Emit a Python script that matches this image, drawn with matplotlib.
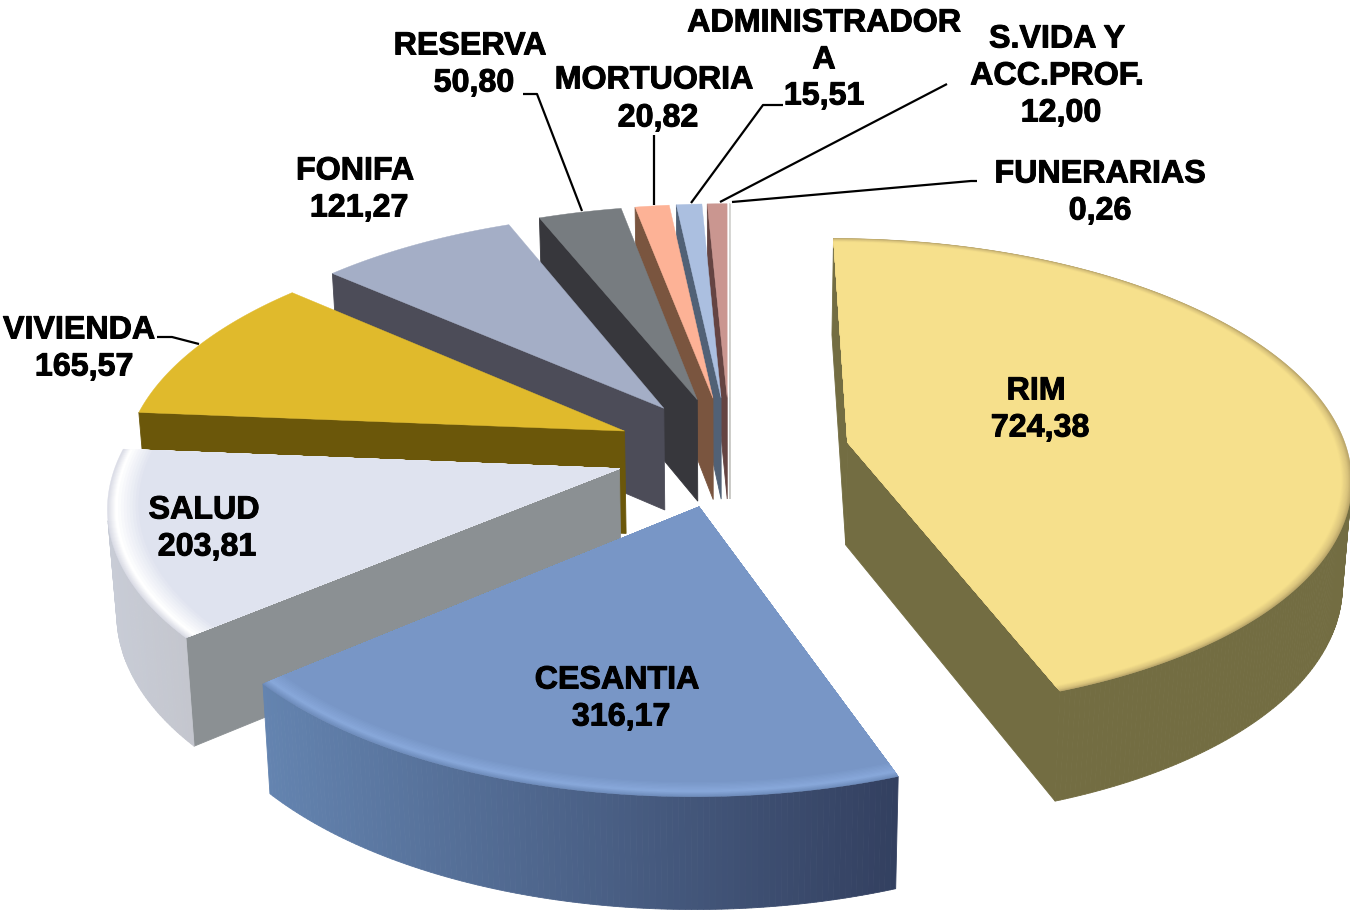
import numpy as np
import matplotlib
matplotlib.use("Agg")
import matplotlib.pyplot as plt
import matplotlib.patheffects as pe
from matplotlib.colors import to_rgb
from matplotlib.patches import Polygon

names = ["RIM", "CESANTIA", "SALUD", "VIVIENDA", "FONIFA", "RESERVA", "MORTUORIA", "ADMINISTRADORA", "S.VIDA Y ACC.PROF.", "FUNERARIAS"]
values = [724.38, 316.17, 203.81, 165.57, 121.27, 50.80, 20.82, 15.51, 12.00, 0.26]
value_text = ["724,38", "316,17", "203,81", "165,57", "121,27", "50,80", "20,82", "15,51", "12,00", "0,26"]

explode = [0.24, 0.235, 0.23, 0.232, 0.235, 0.24, 0.24, 0.24, 0.24, 0.24]
top_colors = ["#F6E08C", "#7896C6", "#DFE3EF", "#E0BA2C", "#A4AEC6", "#777C80", "#FDB296", "#ABBFE0", "#CA9690", "#D8D8D4"]
face_colors = ["#736D42", "#5F7DA8", "#8B9093", "#6B570A", "#4C4C58", "#37373C", "#7A553F", "#516176", "#654442", "#C8C8C4"]
wall_left = ["#736D42", "#6484B0", "#C8CCD6", "#6B570A", "#4C4C58", "#37373C", "#7A553F", "#516176", "#654442", "#C8C8C4"]
wall_right = ["#736D42", "#334060", "#C4C6CE", "#6B570A", "#4C4C58", "#37373C", "#7A553F", "#516176", "#654442", "#C8C8C4"]
# rim bevel stops: (radius fraction, colour), outer edge first
bevels = {
    0: [(1.0, "#B8A468"), (0.992, "#DCC67E"), (0.98, "#F6E08C")],
    1: [(1.0, "#6F8DBC"), (0.985, "#88A8DA"), (0.955, "#7896C6")],
    2: [(1.0, "#DADCE6"), (0.985, "#FFFFFF"), (0.94, "#DFE3EF")],
}

CX, CY, RX, RY, P, DEPTH, SHRINK = 730, 452, 500, 234, 0.136, 103, 0.985


def project(U, V, bottom=False):
    w = 1.0 / (1.0 - P * V)
    x = CX + RX * U * w
    y = CY + RY * V * w
    if bottom:
        x = CX + (x - CX) * SHRINK
        y = y + DEPTH * np.sqrt(w)
    return np.column_stack([x, y])


def mix(a, b, t):
    a, b = np.array(to_rgb(a)), np.array(to_rgb(b))
    return tuple(a + (b - a) * t)


fig = plt.figure(figsize=(13.5, 9.13), dpi=100)
ax = fig.add_axes([0, 0, 1, 1])
ax.set_xlim(0, 1350)
ax.set_ylim(913, 0)
ax.axis("off")

angles = np.cumsum([0.0] + list(values)) / np.sum(values) * 2 * np.pi


def slice_geom(i, r=1.0):
    a0, a1 = angles[i], angles[i + 1]
    mid = (a0 + a1) / 2
    ax0, ay0 = explode[i] * np.sin(mid), -explode[i] * np.cos(mid)
    th = np.linspace(a0, a1, max(3, int((a1 - a0) / 0.01)))
    return (ax0, ay0), ax0 + r * np.sin(th), ay0 - r * np.cos(th), th


def area(q):
    x, y = q[:, 0], q[:, 1]
    return np.sum(x * np.roll(y, -1) - np.roll(x, -1) * y)


def quad(t0, t1, b1, b0, color, z):
    q = np.vstack([t0, t1, b1, b0])
    if area(q) < 0:
        ax.add_patch(Polygon(q, closed=True, fc=color, ec=color, lw=0.6, zorder=z))


order = [9, 8, 7, 6, 5, 4, 3, 2, 0, 1]
for n, i in enumerate(order):
    z = 2 + n
    (a_x, a_y), us, vs, th = slice_geom(i)
    top = project(us, vs)
    bot = project(us, vs, bottom=True)
    ap_t = project(np.array([a_x]), np.array([a_y]))
    ap_b = project(np.array([a_x]), np.array([a_y]), bottom=True)
    quad(ap_t, top[:1], bot[:1], ap_b, face_colors[i], z)
    quad(top[-1:], ap_t, ap_b, bot[-1:], face_colors[i], z)
    xmin, xmax = top[:, 0].min(), top[:, 0].max()
    for k in range(len(th) - 1):
        t = (top[k, 0] - xmin) / max(xmax - xmin, 1)
        quad(top[k:k + 1], top[k + 1:k + 2], bot[k + 1:k + 2], bot[k:k + 1],
             mix(wall_left[i], wall_right[i], t), z)
    # top surface: nested wedges give a smooth bevel along the rim
    stops = bevels.get(i, [(1.0, top_colors[i])])
    layers = []
    for (r0, c0), (r1, c1) in zip(stops[:-1], stops[1:]):
        for t in np.linspace(0, 1, 8, endpoint=False):
            layers.append((r0 + (r1 - r0) * t, mix(c0, c1, t)))
    layers.append(stops[-1])
    for r, col in layers:
        _, u2, v2, _ = slice_geom(i, r)
        poly = np.vstack([ap_t, project(u2, v2)])
        ax.add_patch(Polygon(poly, closed=True, fc=col, ec=col, lw=0.3, zorder=z + 0.5))

label_lines = [
    (1036, 388, names[0]), (1040, 425, value_text[0]),
    (617, 677, names[1]), (621, 714, value_text[1]),
    (204, 507, names[2]), (207, 544, value_text[2]),
    (79, 327, names[3]), (84, 364, value_text[3]),
    (355, 168, names[4]), (359, 205, value_text[4]),
    (470, 43, names[5]), (474, 80, value_text[5]),
    (654, 77, names[6]), (658, 115, value_text[6]),
    (824, 20, "ADMINISTRADOR"), (824, 57, "A"), (824, 93, value_text[7]),
    (1057, 36, "S.VIDA Y"), (1057, 73, "ACC.PROF."), (1061, 110, value_text[8]),
    (1100, 171, names[9]), (1100, 208, value_text[9]),
]
for x, y, s in label_lines:
    ax.text(x, y + 11.5, s, ha="center", va="baseline", family="Liberation Sans", fontweight="bold",
            fontsize=23.2, color="black", zorder=30,
            path_effects=[pe.withStroke(linewidth=0.7, foreground="black")])

leaders = [
    [(157, 337), (172, 337), (199, 344)],
    [(523, 94), (537, 94), (582, 211)],
    [(654, 135), (654, 205)],
    [(783, 105), (763, 105), (691, 203)],
    [(947, 84), (720, 202)],
    [(977, 181), (971, 181), (732, 202)],
]
for pts in leaders:
    xs, ys = zip(*pts)
    ax.plot(xs, ys, color="black", lw=1.6, zorder=25, solid_capstyle="butt")

fig.savefig("out.png", dpi=100)
